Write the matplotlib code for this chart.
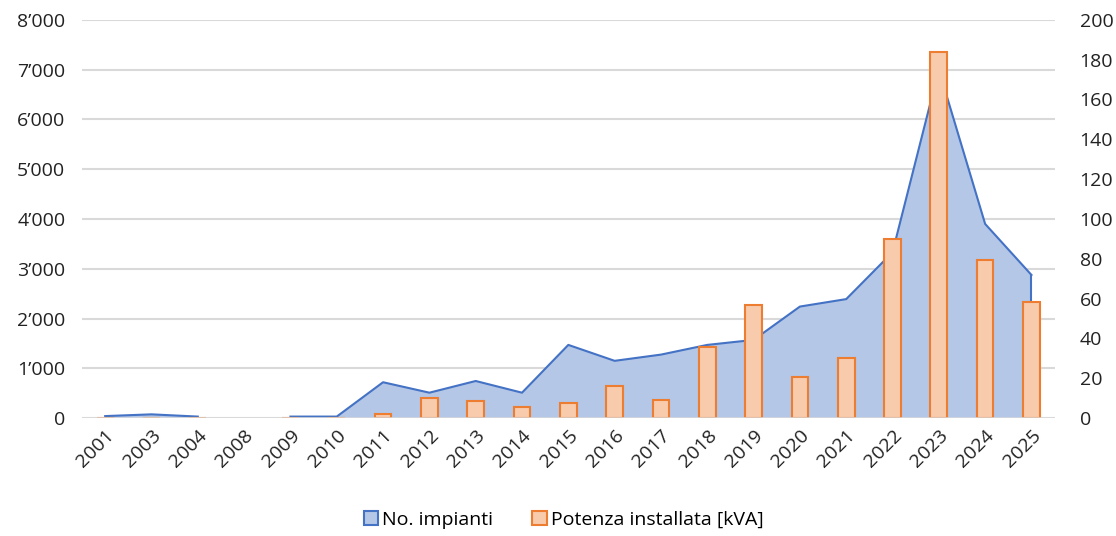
import numpy as np
import matplotlib.pyplot as plt
from matplotlib.patches import Patch
from matplotlib.ticker import FuncFormatter, MultipleLocator

plt.rcParams['font.family'] = ['Open Sans', 'DejaVu Sans']

# data
years = ['2001', '2003', '2004', '2008', '2009', '2010', '2011', '2012', '2013', '2014',
         '2015', '2016', '2017', '2018', '2019', '2020', '2021', '2022', '2023', '2024', '2025']
impianti = [40, 75, 30, np.nan, 30, 30, 720, 510, 745, 510,
            1470, 1150, 1275, 1470, 1570, 2240, 2390, 3330, 7000, 3900, 2875]
potenza = [0.2, 0.2, 0.2, 0, 0.2, 0.2, 2.3, 9.9, 8.5, 5.5,
           7.4, 16, 8.9, 35.8, 56.8, 20.6, 30.2, 90.1, 183.8, 79.2, 58.3]

blue_line = '#4472c4'
blue_fill = '#b4c7e7'
orange_line = '#ed7d31'
orange_fill = '#f8cbad'
grid_col = '#d9d9d9'

x = np.arange(len(years))
imp = np.array(impianti, dtype=float)
pot = np.array(potenza)

fig = plt.figure(figsize=(11.16, 5.36), dpi=100)
ax = fig.add_axes([0.0735, 0.22, 0.8715, 0.743])
ax2 = ax.twinx()

ax.fill_between(x, imp, 0, color=blue_fill, linewidth=0, zorder=2)
ax.plot(x, imp, color=blue_line, lw=1.5, zorder=3)
ax.plot([x[-1], x[-1]], [0, imp[-1]], color=blue_line, lw=1.5, zorder=3)

show = pot > 0
ax2.bar(x[show], pot[show], width=0.36, color=orange_fill, edgecolor=orange_line, linewidth=1.5)
# axis line sits on top of the bars, like in Excel
ax2.axhline(0, color=grid_col, lw=1.8, zorder=5)

ax.set_xlim(-0.5, len(years) - 0.5)
ax.set_ylim(0, 8000)
ax2.set_ylim(0, 200)
ax.yaxis.set_major_locator(MultipleLocator(1000))
ax2.yaxis.set_major_locator(MultipleLocator(20))
ax.yaxis.set_major_formatter(FuncFormatter(
    lambda v, p: '0' if v == 0 else f'{int(v) // 1000}\u2019{int(v) % 1000:03d}'))

ax.set_xticks(x)
ax.set_xticklabels(years, rotation=45, ha='right', rotation_mode='anchor')

ax.grid(axis='y', color=grid_col, lw=1.5, zorder=0)
ax.set_axisbelow(True)
for a in (ax, ax2):
    for s in a.spines.values():
        s.set_visible(False)
    a.tick_params(length=0, labelsize=14, colors='#222222')
ax.tick_params(axis='y', pad=12)
ax2.tick_params(axis='y', pad=18)
ax.tick_params(axis='x', pad=6)

handles = [Patch(facecolor=blue_fill, edgecolor=blue_line, lw=1.5),
           Patch(facecolor=orange_fill, edgecolor=orange_line, lw=1.5)]
fig.legend(handles, ['No. impianti', 'Potenza installata [kVA]'], loc='center',
           bbox_to_anchor=(0.505, 0.03), ncol=2, frameon=False, fontsize=14,
           handlelength=0.75, handleheight=0.75, handletextpad=0.2, columnspacing=2.0)

fig.savefig('out.png', dpi=100)
